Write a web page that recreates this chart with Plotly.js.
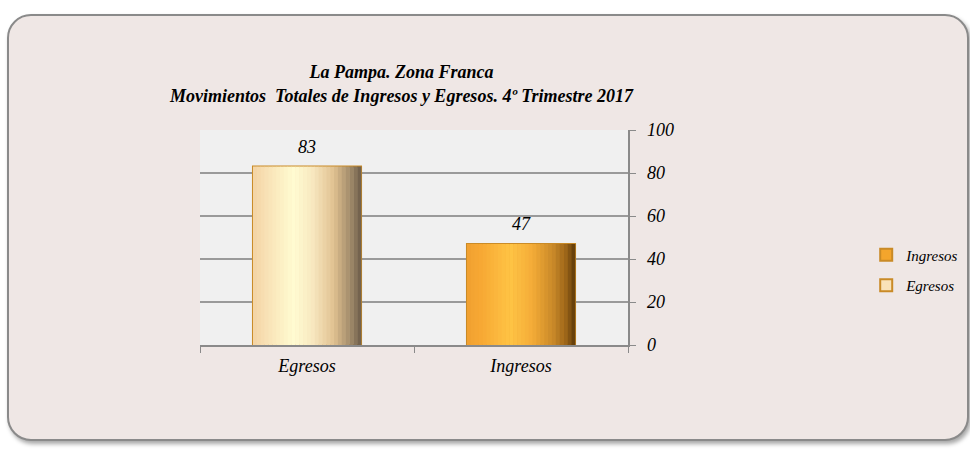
<!DOCTYPE html>
<html>
<head>
<meta charset="utf-8">
<script src="https://cdn.plot.ly/plotly-3.0.1.min.js"></script>
<style>
  html, body { margin: 0; padding: 0; background: #ffffff; }
  #frame {
    position: absolute; left: 7px; top: 14px; width: 958px; height: 423px;
    background: #efe7e5; border: 2px solid #8a8a8a; border-radius: 24px;
    box-shadow: 2px 3px 4px rgba(0,0,0,0.35);
  }
  #chart { position: absolute; left: 0; top: 0; width: 970px; height: 450px; }
</style>
</head>
<body>
<div id="frame"></div>
<div id="chart"></div>
<script>
const categories = ["Egresos", "Ingresos"];
const seriesNames = ["Ingresos", "Egresos"];
const ingresosValues = [47];
const egresosValues = [83];
const yTicks = [0, 20, 40, 60, 80, 100];
const titleLines = ["La Pampa. Zona Franca", "Movimientos  Totales de Ingresos y Egresos. 4º Trimestre 2017"];

const fontFam = "Liberation Serif, DejaVu Serif, serif";
const BAR_W = 0.505;
const N_STRIPS = 28;

// cylinder-like horizontal shading stops (style only)
const egresosStops = [[0, [243,211,163]], [0.15, [249,228,184]], [0.38, [255,252,210]], [0.55, [248,232,192]], [0.75, [224,192,144]], [0.9, [160,138,106]], [1, [106,90,72]]];
const ingresosStops = [[0, [240,160,48]], [0.15, [248,170,53]], [0.4, [255,196,69]], [0.6, [244,172,56]], [0.8, [200,136,40]], [0.92, [152,98,24]], [1, [90,56,8]]];

function colorAt(stops, t) {
  for (let i = 1; i < stops.length; i++) {
    if (t <= stops[i][0]) {
      const [t0, c0] = stops[i-1], [t1, c1] = stops[i];
      const f = (t - t0) / (t1 - t0);
      const c = c0.map((v, k) => Math.round(v + (c1[k] - v) * f));
      return "rgb(" + c.join(",") + ")";
    }
  }
  const c = stops[stops.length-1][1];
  return "rgb(" + c.join(",") + ")";
}

function strips(xCat, values, stops) {
  const out = [];
  const sw = BAR_W / N_STRIPS;
  for (let i = 0; i < N_STRIPS; i++) {
    out.push({
      type: "bar", x: [xCat], y: values, showlegend: false, hoverinfo: "skip",
      offset: -BAR_W/2 + i*sw, width: sw * 1.08,
      marker: { color: colorAt(stops, (i + 0.5) / N_STRIPS), line: { width: 0 } }
    });
  }
  return out;
}

const traces = [
  {
    type: "bar", name: seriesNames[0], x: [categories[1]], y: ingresosValues,
    legendgroup: "a", width: BAR_W,
    marker: { color: "#f4a52c", line: { color: "#c98a26", width: 2 } }
  },
  {
    type: "bar", name: seriesNames[1], x: [categories[0]], y: egresosValues,
    legendgroup: "b", width: BAR_W,
    marker: { color: "#f9e2b8", line: { color: "#c98a26", width: 2 } }
  },
  ...strips(categories[1], ingresosValues, ingresosStops),
  ...strips(categories[0], egresosValues, egresosStops)
];

const labelFont = { family: fontFam, size: 18, color: "#000", style: "italic" };
const annotations = [
  { x: categories[0], y: egresosValues[0], text: String(egresosValues[0]) },
  { x: categories[1], y: ingresosValues[0], text: String(ingresosValues[0]) }
].map(a => Object.assign(a, { xref: "x", yref: "y", showarrow: false, yanchor: "bottom", yshift: 8, font: labelFont }));

const layout = {
  width: 970, height: 450,
  paper_bgcolor: "rgba(0,0,0,0)",
  plot_bgcolor: "#f0f0f0",
  margin: { l: 200, r: 342, t: 130, b: 105 },
  barmode: "overlay",
  showlegend: true,
  font: { family: fontFam, size: 18, color: "#000" },
  title: {
    text: "<b><i>" + titleLines[0] + "<br>" + titleLines[1] + "</i></b>",
    x: 0.414, xanchor: "center", y: 0.826, yanchor: "middle",
    font: { family: fontFam, size: 18, color: "#000" }
  },
  xaxis: {
    type: "category", categoryorder: "array", categoryarray: categories,
    tickson: "boundaries", ticks: "outside", ticklen: 6, tickcolor: "#8a8a8a",
    showline: true, linecolor: "#8a8a8a", linewidth: 1.5,
    showgrid: false, zeroline: false, ticklabelstandoff: 4,
    tickfont: { family: fontFam, size: 18, style: "italic" }
  },
  yaxis: {
    side: "right", range: [0, 100], tickvals: yTicks,
    ticks: "outside", ticklen: 6, tickcolor: "#8a8a8a",
    showline: true, linecolor: "#8a8a8a", linewidth: 1.5,
    gridcolor: "#9a9a9a", gridwidth: 1.5, zeroline: false, ticklabelstandoff: 8,
    tickfont: { family: fontFam, size: 18, style: "italic" }
  },
  legend: {
    xref: "container", yref: "container",
    x: 0.893, xanchor: "left", y: 0.4, yanchor: "middle",
    bgcolor: "rgba(0,0,0,0)", traceorder: "grouped", tracegroupgap: 8,
    font: { family: fontFam, size: 15, style: "italic" },
    itemwidth: 30
  },
  annotations: annotations
};

Plotly.newPlot("chart", traces, layout, { displayModeBar: false, staticPlot: true });
</script>
</body>
</html>
